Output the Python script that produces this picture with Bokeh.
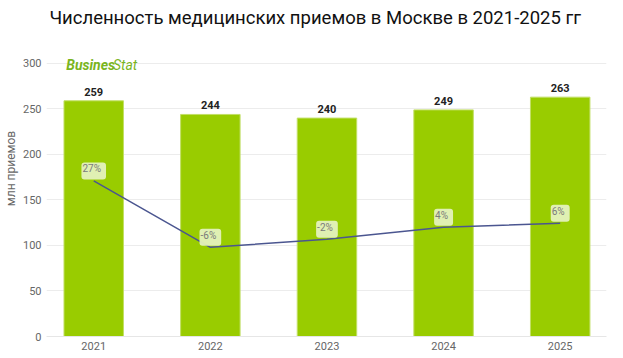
from bokeh.plotting import figure
from bokeh.models import Range1d, FixedTicker, Label, ColumnDataSource, LabelSet
from bokeh.core.properties import value
from bokeh.embed import file_html
from bokeh.resources import INLINE

title_text = "Численность медицинских приемов в Москве в 2021-2025 гг"
years = ["2021", "2022", "2023", "2024", "2025"]
values = [259, 244, 240, 249, 263]
growth = [27, -6, -2, 4, 6]
growth_labels = ["27%", "-6%", "-2%", "4%", "6%"]
yticks = [0, 50, 100, 150, 200, 250, 300]

xs = list(range(len(years)))

# frame covers the full height (title lives inside the frame, above the 300 gridline)
p = figure(width=607, height=358,
           x_range=Range1d(-0.405, 4.397), y_range=Range1d(0, 369.2),
           output_backend="svg", toolbar_location=None,
           min_border_left=37, min_border_right=1, min_border_bottom=22, min_border_top=0)
p.outline_line_color = None
p.background_fill_color = "white"
p.border_fill_color = "white"

p.add_layout(Label(x=1.899, y=349.5, text=title_text, text_align="center",
                   text_baseline="middle", text_font="Roboto", text_font_size="18.5px",
                   text_color="#111111"))

p.extra_y_ranges = {"pct": Range1d(-50.36, 116.7)}

src = ColumnDataSource(dict(x=xs, top=values, lab=[str(v) for v in values],
                            g=growth, gl=growth_labels))

p.vbar(x="x", top="top", width=0.51, source=src, fill_color="#99cc00",
       line_color="#c2df66", line_width=1)

p.line(x="x", y="g", source=src, y_range_name="pct", line_color="#4b5690", line_width=1.5)

vl = LabelSet(x="x", y="top", text="lab", source=src, text_align="center",
              text_baseline="bottom", y_offset=5, text_font=value("Roboto"),
              text_font_size=value("11px"), text_font_style="bold", text_color="#222222")
p.add_layout(vl)

for xi, gi, gl in zip(xs, growth, growth_labels):
    p.add_layout(Label(x=xi, y=gi, y_range_name="pct", text=gl, text_align="center",
                       text_baseline="middle", y_offset=10, text_font="Roboto",
                       text_font_size="10px", text_color="#7a7a7a",
                       background_fill_color="#e4f1bd", background_fill_alpha=0.95,
                       padding=(1, 5, 1, 5), border_radius=3))

p.add_layout(Label(x=-0.236, y=289, text="Busines", text_font="Roboto",
                   text_font_size="14px", text_font_style="bold italic", text_color="#7ab51d"))
p.add_layout(Label(x=0.165, y=289, text="Stat", text_font="Roboto",
                   text_font_size="14px", text_font_style="italic", text_color="#7ab51d"))

p.xaxis.ticker = FixedTicker(ticks=xs)
p.xaxis.major_label_overrides = {i: y for i, y in enumerate(years)}
p.xaxis.axis_line_color = "#e6e6e6"
p.xaxis.major_tick_line_color = None
p.xaxis.minor_tick_line_color = None
p.xaxis.major_tick_out = 0
p.xaxis.major_label_standoff = 5
p.xaxis.major_label_text_font = "Roboto"
p.xaxis.major_label_text_font_size = "11px"
p.xaxis.major_label_text_color = "#666666"

p.yaxis.ticker = FixedTicker(ticks=yticks)
p.yaxis.bounds = (0, 334)
p.yaxis.axis_line_color = None
p.yaxis.major_tick_line_color = None
p.yaxis.minor_tick_line_color = None
p.yaxis.major_tick_out = 0
p.yaxis.major_label_standoff = 5
p.yaxis.major_label_text_font = "Roboto"
p.yaxis.major_label_text_font_size = "11px"
p.yaxis.major_label_text_color = "#666666"
p.yaxis.axis_label = "млн приемов"
p.yaxis.axis_label_text_font = "Roboto"
p.yaxis.axis_label_text_font_size = "12px"
p.yaxis.axis_label_text_font_style = "normal"
p.yaxis.axis_label_text_color = "#666666"
p.yaxis.axis_label_standoff = 2

p.xgrid.grid_line_color = None
p.ygrid.grid_line_color = "#ececec"
p.ygrid.ticker = FixedTicker(ticks=yticks)

open("out.html", "w").write(file_html(p, INLINE))
